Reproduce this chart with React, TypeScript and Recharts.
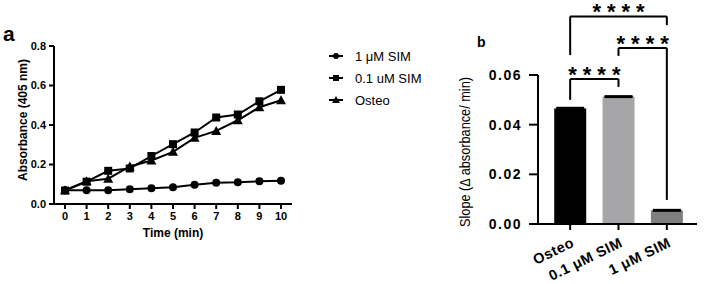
import { LineChart, Line, XAxis, YAxis, Legend, Label, BarChart, Bar, Cell, ErrorBar, ReferenceLine } from 'recharts'

// panel a: absorbance over time
const times = [0, 1, 2, 3, 4, 5, 6, 7, 8, 9, 10]
const sim1 = [0.07, 0.07, 0.07, 0.075, 0.08, 0.085, 0.097, 0.108, 0.11, 0.115, 0.118]
const sim01 = [0.068, 0.113, 0.168, 0.18, 0.243, 0.303, 0.362, 0.438, 0.453, 0.52, 0.578]
const osteo = [0.07, 0.115, 0.128, 0.19, 0.22, 0.264, 0.335, 0.37, 0.424, 0.49, 0.525]
const absTicks = [0, 0.2, 0.4, 0.6, 0.8]
const legendOrder = ['sim1', 'sim01', 'osteo']

// panel b: slopes
const groups = ['Osteo', '0.1 μM SIM', '1 μM SIM']
const slopes = [0.0465, 0.0513, 0.0055]
const slopeErr = [0.0003, 0.0002, 0.0002]
const barColors = ['#000000', '#a6a6a8', '#7f7f7f']
const slopeTicks = [0, 0.02, 0.04, 0.06]

// significance brackets
const brackets = [
  { from: 'Osteo', to: '0.1 μM SIM', y: 0.0584, yFrom: 0.05, yTo: 0.0552, label: '****' },
  { from: '0.1 μM SIM', to: '1 μM SIM', y: 0.0709, yFrom: 0.0677, yTo: 0.0097, label: '****' },
  { from: 'Osteo', to: '1 μM SIM', y: 0.0836, yFrom: 0.068, yTo: 0.0801, label: '****' },
]

const lineData = times.map((t, i) => ({ t, sim1: sim1[i], sim01: sim01[i], osteo: osteo[i] }))
const barData = groups.map((g, i) => ({ group: g, slope: slopes[i], err: slopeErr[i] }))

const FONT = "'Liberation Sans', Arial, sans-serif"

const CircleDot = (p: any) => <circle key={p.index} cx={p.cx} cy={p.cy} r={4} fill="#000" />
const SquareDot = (p: any) => <rect key={p.index} x={p.cx - 4} y={p.cy - 4} width={8} height={8} fill="#000" />
const TriangleDot = (p: any) => (
  <polygon key={p.index} points={`${p.cx},${p.cy - 5} ${p.cx + 5},${p.cy + 4} ${p.cx - 5},${p.cy + 4}`} fill="#000" />
)

const legendIcon = (key: string) => {
  if (key === 'sim1') return <circle cx={7} cy={5} r={3} fill="#000" />
  if (key === 'sim01') return <rect x={4} y={2} width={6} height={6} fill="#000" />
  return <polygon points="7,1 11,8 3,8" fill="#000" />
}

const LegendBox = ({ payload }: any) => {
  const items = [...(payload || [])].sort(
    (a: any, b: any) => legendOrder.indexOf(a.dataKey) - legendOrder.indexOf(b.dataKey)
  )
  return (
    <div style={{ fontFamily: FONT, fontSize: 13, color: '#000' }}>
      {items.map((item: any) => (
        <div key={item.dataKey} style={{ display: 'flex', alignItems: 'center', height: 22 }}>
          <svg width={14} height={10}>
            <line x1={0} y1={5} x2={14} y2={5} stroke="#000" strokeWidth={2} />
            {legendIcon(item.dataKey)}
          </svg>
          <span style={{ marginLeft: 12 }}>{item.value}</span>
        </div>
      ))}
    </div>
  )
}

const Stars = ({ viewBox, value }: any) => (
  <text x={viewBox.x + viewBox.width / 2 + 3} y={viewBox.y + 3} textAnchor="middle"
    fontFamily={FONT} fontSize={22} fontWeight="bold" letterSpacing={6} fill="#000">{value}</text>
)

const GroupTick = ({ x, y, payload }: any) => (
  <text x={x + 5} y={y + 14} transform={`rotate(-26 ${x + 5} ${y + 14})`} textAnchor="end"
    fontFamily={FONT} fontSize={14.5} fontWeight="bold" letterSpacing={0.5} fill="#000">{payload.value}</text>
)

export default function App() {
  return (
    <div style={{ position: 'fixed', left: 0, top: 0, width: 707, height: 284, background: '#fff', fontFamily: FONT }}>
      <div style={{ position: 'absolute', left: 3, top: 22, fontSize: 21, fontWeight: 'bold' }}>a</div>
      <div style={{ position: 'absolute', left: 477, top: 34, fontSize: 14, fontWeight: 'bold' }}>b</div>

      <div style={{ position: 'absolute', left: 0, top: 0 }}>
        <LineChart width={450} height={284} data={lineData} margin={{ top: 46, right: 158, bottom: 40, left: 0 }}>
          <XAxis dataKey="t" type="number" domain={[0, 10]} ticks={times} padding={{ left: 11, right: 11 }}
            height={40} tickSize={5} tickMargin={3} stroke="#000" strokeWidth={2}
            tick={{ fontSize: 11, fontWeight: 'bold', fill: '#000', fontFamily: FONT }}>
            <Label content={({ viewBox }: any) => (
              <text x={viewBox.x + viewBox.width / 2} y={viewBox.y + 33} textAnchor="middle"
                fontFamily={FONT} fontSize={12} fontWeight="bold" fill="#000">Time (min)</text>
            )} />
          </XAxis>
          <YAxis domain={[0, 0.8]} ticks={absTicks} tickFormatter={(v: number) => v.toFixed(1)} width={54}
            tickSize={5} tickMargin={3} stroke="#000" strokeWidth={2}
            tick={{ fontSize: 11, fontWeight: 'bold', fill: '#000', fontFamily: FONT }}>
            <Label content={() => (
              <text x={27} y={120} transform="rotate(-90 27 120)" textAnchor="middle"
                fontFamily={FONT} fontSize={12} fontWeight="bold" fill="#000">Absorbance (405 nm)</text>
            )} />
          </YAxis>
          <Legend layout="vertical" align="center" verticalAlign="middle" content={<LegendBox />}
            wrapperStyle={{ left: 329, top: 45, width: 120 }} />
          <Line dataKey="sim1" name="1 μM SIM" stroke="#000" strokeWidth={2} dot={CircleDot} isAnimationActive={false} />
          <Line dataKey="sim01" name="0.1 uM SIM" stroke="#000" strokeWidth={2} dot={SquareDot} isAnimationActive={false} />
          <Line dataKey="osteo" name="Osteo" stroke="#000" strokeWidth={2} dot={TriangleDot} isAnimationActive={false} />
        </LineChart>
      </div>

      <div style={{ position: 'absolute', left: 450, top: 0 }}>
        <BarChart width={257} height={284} data={barData} margin={{ top: 75, right: 10, bottom: 0, left: 0 }}
          barCategoryGap="17%">
          <XAxis dataKey="group" height={60} padding={{ left: 8, right: 6 }} tickSize={6} tickMargin={2}
            stroke="#000" strokeWidth={2} tick={<GroupTick />} interval={0} />
          <YAxis domain={[0, 0.06]} ticks={slopeTicks} tickFormatter={(v: number) => v.toFixed(2)} width={88}
            tickSize={9} tickMargin={7} stroke="#000" strokeWidth={2}
            tick={{ fontSize: 14, fontWeight: 'bold', fill: '#000', fontFamily: FONT, letterSpacing: 1.5 }}>
            <Label content={() => (
              <text x={20} y={152} transform="rotate(-90 20 152)" textAnchor="middle"
                fontFamily={FONT} fontSize={15} fill="#000" textLength={150} lengthAdjust="spacingAndGlyphs">
                Slope (Δ absorbance/ min)
              </text>
            )} />
          </YAxis>
          <Bar dataKey="slope" isAnimationActive={false}>
            {barData.map((d, i) => <Cell key={d.group} fill={barColors[i]} />)}
            <ErrorBar dataKey="err" width={14} stroke="#000" strokeWidth={2} direction="y" isAnimationActive={false} />
          </Bar>
          {brackets.map((b, i) => (
            <ReferenceLine key={`h${i}`} segment={[{ x: b.from, y: b.y }, { x: b.to, y: b.y }]}
              stroke="#000" strokeWidth={2} ifOverflow="visible" label={<Stars value={b.label} />} />
          ))}
          {brackets.map((b, i) => (
            <ReferenceLine key={`l${i}`} segment={[{ x: b.from, y: b.y }, { x: b.from, y: b.yFrom }]}
              stroke="#000" strokeWidth={2} ifOverflow="visible" />
          ))}
          {brackets.map((b, i) => (
            <ReferenceLine key={`r${i}`} segment={[{ x: b.to, y: b.y }, { x: b.to, y: b.yTo }]}
              stroke="#000" strokeWidth={2} ifOverflow="visible" />
          ))}
        </BarChart>
      </div>
    </div>
  )
}
